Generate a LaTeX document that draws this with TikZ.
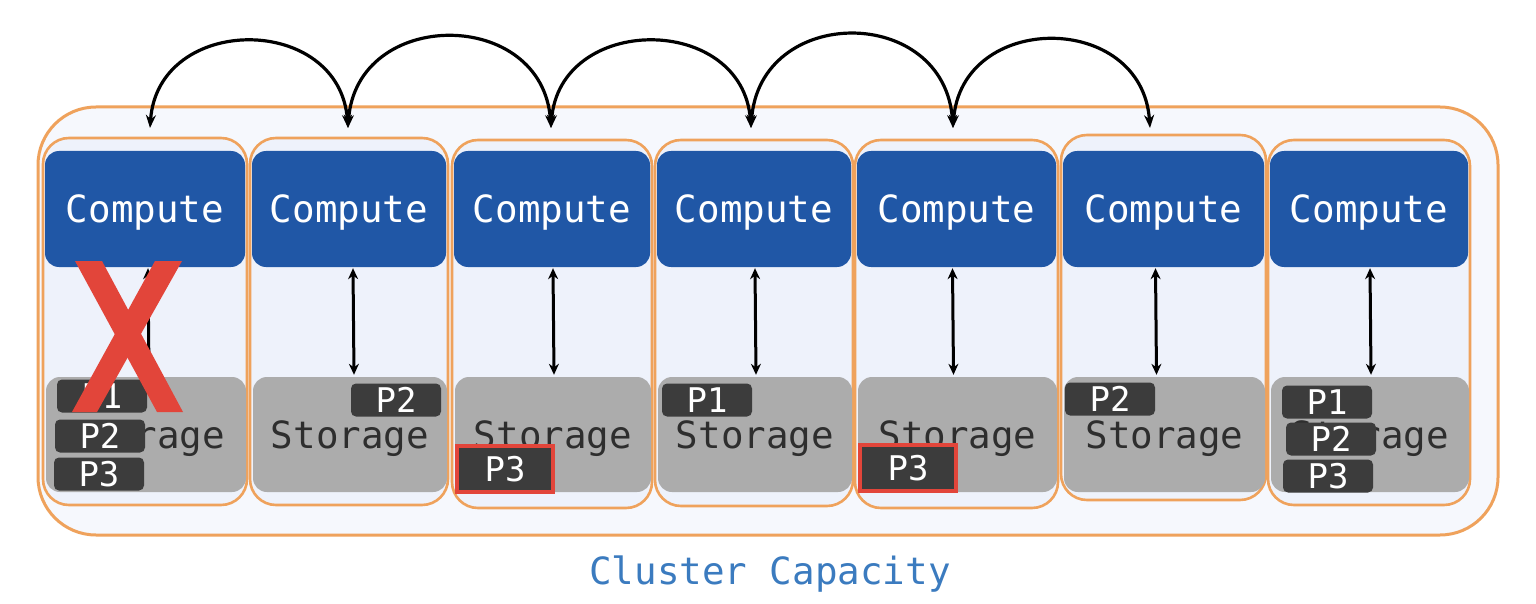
\documentclass[tikz,border=0pt]{standalone}
\usepackage{fontspec}
\usetikzlibrary{arrows.meta}
\newfontfamily\plexmono{DejaVu Sans Mono}

\definecolor{frameorange}{HTML}{EFA25C}
\definecolor{outerfill}{HTML}{F6F8FD}
\definecolor{colfill}{HTML}{EEF2FB}
\definecolor{computeblue}{HTML}{2057A6}
\definecolor{storagegray}{HTML}{ACACAC}
\definecolor{partdark}{HTML}{3C3C3C}
\definecolor{alertred}{HTML}{E2453A}
\definecolor{captionblue}{HTML}{3B7BBF}

\tikzset{
  outerframe/.style={draw=frameorange, line width=3pt, fill=outerfill, rounded corners=58pt},
  colframe/.style={draw=frameorange, line width=2.6pt, fill=colfill, rounded corners=26pt},
  computebox/.style={fill=computeblue, rounded corners=14pt, text=white,
    font=\plexmono\fontsize{37.5}{40}\selectfont, inner sep=0pt,
    text height=27pt, text depth=0pt},
  storagebox/.style={fill=storagegray, rounded corners=14pt, text=black!82,
    font=\plexmono\fontsize{37.5}{40}\selectfont, inner sep=0pt,
    text height=27pt, text depth=0pt},
  partbox/.style={fill=partdark, rounded corners=5pt, text=white,
    minimum width=90pt, minimum height=33pt, inner sep=0pt,
    font=\plexmono\fontsize{34}{36}\selectfont},
  lostpart/.style={partbox, draw=alertred, line width=4pt, rounded corners=0pt,
    minimum width=96pt, minimum height=46pt},
  hop/.style={line width=3.2pt, {Stealth[length=13pt,width=10pt]}-{Stealth[length=13pt,width=10pt]}},
  link/.style={line width=3pt, {Stealth[length=11pt,width=10pt]}-{Stealth[length=11pt,width=10pt]}},
}

\begin{document}
\begin{tikzpicture}[x=1pt, y=-1pt]
  \useasboundingbox (0,0) rectangle (1536,604);
  \fill[white] (0,0) rectangle (1536,604);

  % cluster boundary
  \draw[outerframe] (38,107) rectangle (1498,535);

  % nodes: frame, compute and storage per column
  % index / left / right / top / bottom
  \foreach \i/\l/\r/\t/\b in {1/43/247/138/505, 2/250/448/138/505, 3/452/652/140/508,
                              4/655/853/140/506, 5/855/1058/140/508, 6/1061/1266/135/500,
                              7/1268/1470/140/505}{
    \draw[colframe] (\l,\t) rectangle (\r,\b);
    \pgfmathsetmacro{\cx}{(\l+\r)/2}
    \pgfmathsetmacro{\w}{\r-\l-4}
    \node[computebox, minimum width=\w pt, minimum height=116pt] (c\i) at (\cx,209) {Compute};
    \node[storagebox, minimum width=\w pt, minimum height=115pt] (s\i) at (\cx+1,434.5) {Storage};
  }

  % compute <-> storage links
  \foreach \i/\dx in {1/3, 2/4, 3/1, 4/1, 5/-4, 6/-8, 7/1}{
    \draw[link] ([xshift=\dx pt, yshift=-1pt]c\i.south) -- ([xshift=\dx pt, yshift=2pt]s\i.north);
  }

  % partitions
  \node[partbox] (p11) at (102,396) {P1};
  \node[partbox] (p12) at (100,436) {P2};
  \node[partbox] (p13) at (99,474) {P3};
  \node[partbox] (p22) at (396,400) {P2};
  \node[lostpart] (p33) at (505,469) {P3};
  \node[partbox] (p41) at (707,400) {P1};
  \node[lostpart] (p53) at (908,468) {P3};
  \node[partbox] (p62) at (1110,399) {P2};
  \node[partbox] (p71) at (1327,402) {P1};
  \node[partbox] (p72) at (1331,439) {P2};
  \node[partbox] (p73) at (1328,476) {P3};

  % failed node marker
  \fill[alertred] (75,261) -- (102,261) -- (183,412) -- (157,412) -- cycle;
  \fill[alertred] (155,261) -- (182,261) -- (97,412) -- (72,412) -- cycle;

  % hops between nodes
  \foreach \i/\x in {1/150, 2/348, 3/551, 4/751, 5/953, 6/1150}{
    \coordinate (a\i) at (\x,128);
  }
  \draw[hop] (a1) .. controls +(8,-115) and +(-8,-115) .. (a2);
  \draw[hop] (a2) .. controls +(8,-121) and +(-8,-121) .. (a3);
  \draw[hop] (a3) .. controls +(8,-115) and +(-8,-115) .. (a4);
  \draw[hop] (a4) .. controls +(8,-124) and +(-8,-124) .. (a5);
  \draw[hop] (a5) .. controls +(8,-117) and +(-8,-117) .. (a6);

  % caption
  \node[text=captionblue, font=\plexmono\fontsize{37.5}{40}\selectfont] (cap) at (770,574) {Cluster Capacity};
\end{tikzpicture}
\end{document}
